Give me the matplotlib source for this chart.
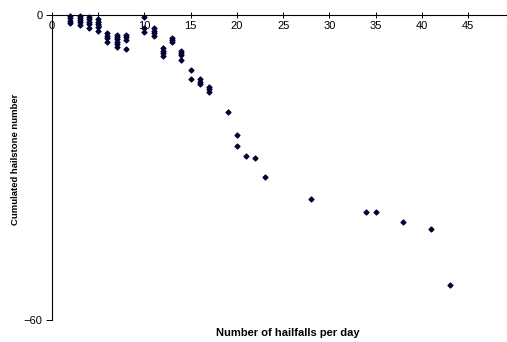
import matplotlib
matplotlib.use("Agg")
import matplotlib.pyplot as plt

matplotlib.rcParams['font.family'] = ['Liberation Sans', 'DejaVu Sans']
matplotlib.rcParams['font.size'] = 8

MARKER = "#000033"

# hailfalls per day (x) and cumulated hailstone number (y)
hailfalls = [2, 2, 2, 2,
             3, 3, 3, 3, 3,
             4, 4, 4, 4, 4,
             5, 5, 5, 5, 5,
             6, 6, 6, 6,
             7, 7, 7, 7, 7, 7,
             8, 8, 8, 8,
             10, 10, 10,
             11, 11, 11, 11,
             12, 12, 12, 12,
             13, 13, 13,
             14, 14, 14, 14,
             15, 15,
             16, 16, 16,
             17, 17, 17,
             19, 20, 20, 21, 22, 23, 28, 34, 35, 38, 41, 43]
hailstones = [-0.2, -0.65, -1.1, -1.65,
              -0.1, -0.55, -1.0, -1.45, -2.0,
              -0.3, -0.85, -1.3, -1.8, -2.5,
              -0.85, -1.3, -1.8, -2.3, -3.15,
              -3.6, -4.1, -4.5, -5.4,
              -3.9, -4.4, -4.8, -5.25, -5.8, -6.3,
              -3.9, -4.4, -4.9, -6.75,
              -0.45, -2.6, -3.3,
              -2.6, -3.1, -3.6, -4.1,
              -6.55, -7.0, -7.55, -8.1,
              -4.45, -4.9, -5.4,
              -7.0, -7.4, -7.9, -8.85,
              -10.8, -12.65,
              -12.65, -13.1, -13.65,
              -14.2, -14.6, -15.1,
              -19.1, -23.7, -25.7, -27.7, -28.1, -31.9, -36.1,
              -38.75, -38.75, -40.8, -42.1, -53.2]

x_ticks = [0, 5, 10, 15, 20, 25, 30, 35, 40, 45]
y_ticks = [-60, 0]

fig = plt.figure(figsize=(5.07, 3.42), dpi=100)
ax = fig.add_axes([52 / 507, 1 - 320 / 342, 1 - 52 / 507, (320 - 15) / 342])

ax.scatter(hailfalls, hailstones, marker='D', s=6, color=MARKER, zorder=3, clip_on=False)

ax.set_xlim(0, 49.2)
ax.set_ylim(-60, 0)
ax.set_xticks(x_ticks)
ax.set_yticks(y_ticks)

ax.spines['right'].set_visible(False)
ax.spines['top'].set_visible(False)
ax.spines['bottom'].set_position(('data', 0))
ax.spines['bottom'].set_linewidth(0.8)
ax.spines['left'].set_linewidth(0.8)
ax.tick_params(axis='x', direction='inout', length=4, width=0.7, pad=2, labelsize=8)
ax.tick_params(axis='y', direction='out', length=4, width=0.7, pad=3, labelsize=8)

fig.text(288 / 507, 1 - 333 / 342, 'Number of hailfalls per day', ha='center', va='center',
         fontsize=8, fontweight='bold')
fig.text(16 / 507, 1 - 159 / 342, 'Cumulated hailstone number', ha='center', va='center',
         rotation='vertical', fontsize=6.8, fontweight='bold')

fig.savefig('out.png', dpi=100)
